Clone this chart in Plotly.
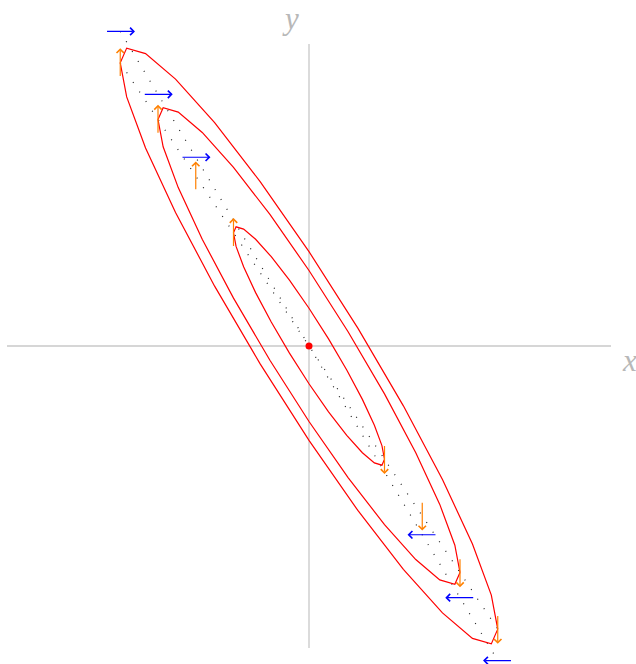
import numpy as np
import plotly.graph_objects as go

# ---------------- data ----------------
# quadratic form Q(x, y) = A x^2 + 2 B x y + C y^2  (level curves = ellipses)
A, B, C = 2.5, 1.5, 1.0
ellipse_levels = [1.0, 4.0, 6.25]          # Q values of the three red ellipses
ellipse_step_deg = 15                       # polygon sampling of each ellipse

# dotted reference lines through the origin: y = slope * x, x in [-5, 5]
dotted_slopes = [-5 / 3, -1.5]
dotted_xrange = [-5, 5]

# blue horizontal arrows (centres and direction +1 = right, -1 = left)
blue_x = [-5, -4, -3, 3, 4, 5]
blue_y = [8.333, 6.667, 5.0, -5.0, -6.667, -8.333]
blue_dir = [1, 1, 1, -1, -1, -1]

# orange vertical arrows (centres and direction +1 = up, -1 = down)
orange_x = [-5, -4, -3, -2, 2, 3, 4, 5]
orange_y = [7.5, 6.0, 4.5, 3.0, -3.0, -4.5, -6.0, -7.5]
orange_dir = [1, 1, 1, 1, -1, -1, -1, -1]

arrow_half = 0.39
axis_extent = 8

# ---------------- figure ----------------
W, H = 636, 664
ux = 37.75
ox, oy = 309, 346
xr = [(0 - ox) / ux, (W - ox) / ux]
yr = [-(H - oy) / ux, oy / ux]

fig = go.Figure()

# axes
fig.add_trace(go.Scatter(x=[-axis_extent, axis_extent], y=[0, 0], mode="lines",
                         line=dict(color="#c8c8c8", width=1.3), hoverinfo="skip"))
fig.add_trace(go.Scatter(x=[0, 0], y=[-axis_extent, axis_extent], mode="lines",
                         line=dict(color="#c8c8c8", width=1.3), hoverinfo="skip"))

# dotted lines
for s in dotted_slopes:
    fig.add_trace(go.Scatter(x=dotted_xrange, y=[s * v for v in dotted_xrange], mode="lines",
                             line=dict(color="#222222", width=1.2, dash="1px,10.5px"),
                             hoverinfo="skip"))

# ellipses
t = np.deg2rad(np.arange(0, 360 + ellipse_step_deg, ellipse_step_deg))
for k in ellipse_levels:
    ex = np.sqrt(k * C / (A * C - B * B)) * np.cos(t)
    ey = (np.sqrt(k / C) * np.sin(t) - B * ex) / C
    fig.add_trace(go.Scatter(x=ex, y=ey, mode="lines",
                             line=dict(color="#ff0000", width=1.2), hoverinfo="skip"))

# origin
fig.add_trace(go.Scatter(x=[0], y=[0], mode="markers",
                         marker=dict(color="#ff0000", size=7), hoverinfo="skip"))

annotations = []
for x, y, d in zip(blue_x, blue_y, blue_dir):
    annotations.append(dict(x=x + d * arrow_half, y=y, ax=x - d * arrow_half, ay=y,
                            xref="x", yref="y", axref="x", ayref="y", text="",
                            showarrow=True, arrowhead=4, arrowsize=1.2, arrowwidth=1.2,
                            arrowcolor="#0000ff", standoff=0))
for x, y, d in zip(orange_x, orange_y, orange_dir):
    annotations.append(dict(x=x, y=y + d * arrow_half, ax=x, ay=y - d * arrow_half,
                            xref="x", yref="y", axref="x", ayref="y", text="",
                            showarrow=True, arrowhead=4, arrowsize=1.2, arrowwidth=1.2,
                            arrowcolor="#ff8000", standoff=0))

label_font = dict(family="Liberation Serif", size=31, color="#b8b8b8")
annotations.append(dict(x=(629 - ox) / ux, y=(oy - 360) / ux, xref="x", yref="y", text="<i>x</i>",
                        showarrow=False, font=label_font, xanchor="center", yanchor="middle"))
annotations.append(dict(x=(290 - ox) / ux, y=(oy - 18) / ux, xref="x", yref="y", text="<i>y</i>",
                        showarrow=False, font=label_font, xanchor="center", yanchor="middle"))

fig.update_layout(
    width=W, height=H, autosize=False,
    margin=dict(l=0, r=0, t=0, b=0),
    paper_bgcolor="white", plot_bgcolor="white",
    showlegend=False,
    xaxis=dict(range=xr, visible=False, showgrid=False, zeroline=False, fixedrange=True),
    yaxis=dict(range=yr, visible=False, showgrid=False, zeroline=False, fixedrange=True),
    annotations=annotations,
)

fig.write_html("out.html", config={"displayModeBar": False},
               post_script="document.body.style.margin='0';document.body.style.overflow='hidden';")
